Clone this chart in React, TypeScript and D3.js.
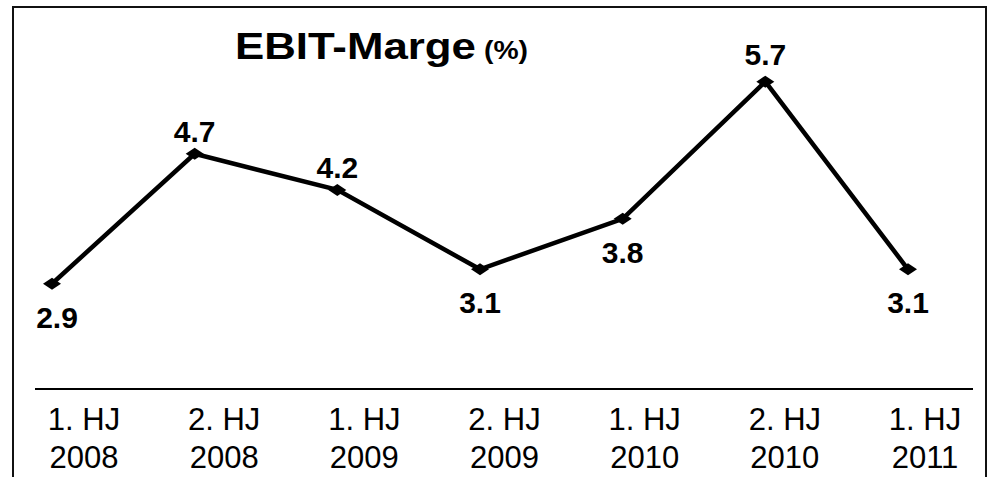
import * as d3 from "d3";

const W = 988;
const H = 477;

const halfYears = ["1. HJ", "2. HJ", "1. HJ", "2. HJ", "1. HJ", "2. HJ", "1. HJ"];
const years = ["2008", "2008", "2009", "2009", "2010", "2010", "2011"];
const ebitMargin = [2.9, 4.7, 4.2, 3.1, 3.8, 5.7, 3.1];
// where the value label sits relative to its point
const labelSide = ["below", "above", "above", "below", "below", "above", "below"];

const FONT = "'Liberation Sans', Arial, Helvetica, sans-serif";

const App = () => {
  const keys = ebitMargin.map((_, i) => String(i));

  const xPoint = d3.scalePoint<string>().domain(keys).range([52, 908]);
  const xLabel = d3.scalePoint<string>().domain(keys).range([84, 925]);
  const y = d3.scaleLinear().domain([0, 6]).range([493, 60]);

  const line = d3
    .line<number>()
    .x((_, i) => xPoint(String(i)) as number)
    .y((d) => y(d));

  const diamond = "M0,-6L9,0L0,6L-9,0Z";

  return (
    <svg
      width={W}
      height={H}
      style={{ position: "absolute", left: 0, top: 0, background: "#fff" }}
      fontFamily={FONT}
    >
      <rect x={13} y={7} width={973} height={H + 10} fill="none" stroke="#111" strokeWidth={2} />

      <text x={235} y={59} fontSize={36} fontWeight="bold" textLength={241} lengthAdjust="spacingAndGlyphs">
        EBIT-Marge
      </text>
      <text x={484} y={59} fontSize={25} fontWeight="bold" textLength={44} lengthAdjust="spacingAndGlyphs">
        (%)
      </text>

      <path d={line(ebitMargin) ?? ""} fill="none" stroke="#000" strokeWidth={4.5} strokeLinejoin="miter" />

      {ebitMargin.map((v, i) => (
        <g key={i} transform={`translate(${xPoint(String(i))},${y(v)})`}>
          <path d={diamond} fill="#000" />
          <text
            x={i === 0 ? 5 : 0}
            y={labelSide[i] === "above" ? (v > 5 ? -17 : -12) : 44}
            textAnchor="middle"
            fontSize={30}
            fontWeight="bold"
          >
            {v.toFixed(1)}
          </text>
        </g>
      ))}

      <line x1={35} x2={973} y1={389} y2={389} stroke="#000" strokeWidth={2} />

      {halfYears.map((h, i) => (
        <g key={i} transform={`translate(${xLabel(String(i))},0)`}>
          <text y={430} textAnchor="middle" fontSize={31}>
            {h}
          </text>
          <text y={468} textAnchor="middle" fontSize={31}>
            {years[i]}
          </text>
        </g>
      ))}
    </svg>
  );
};

export default App;
